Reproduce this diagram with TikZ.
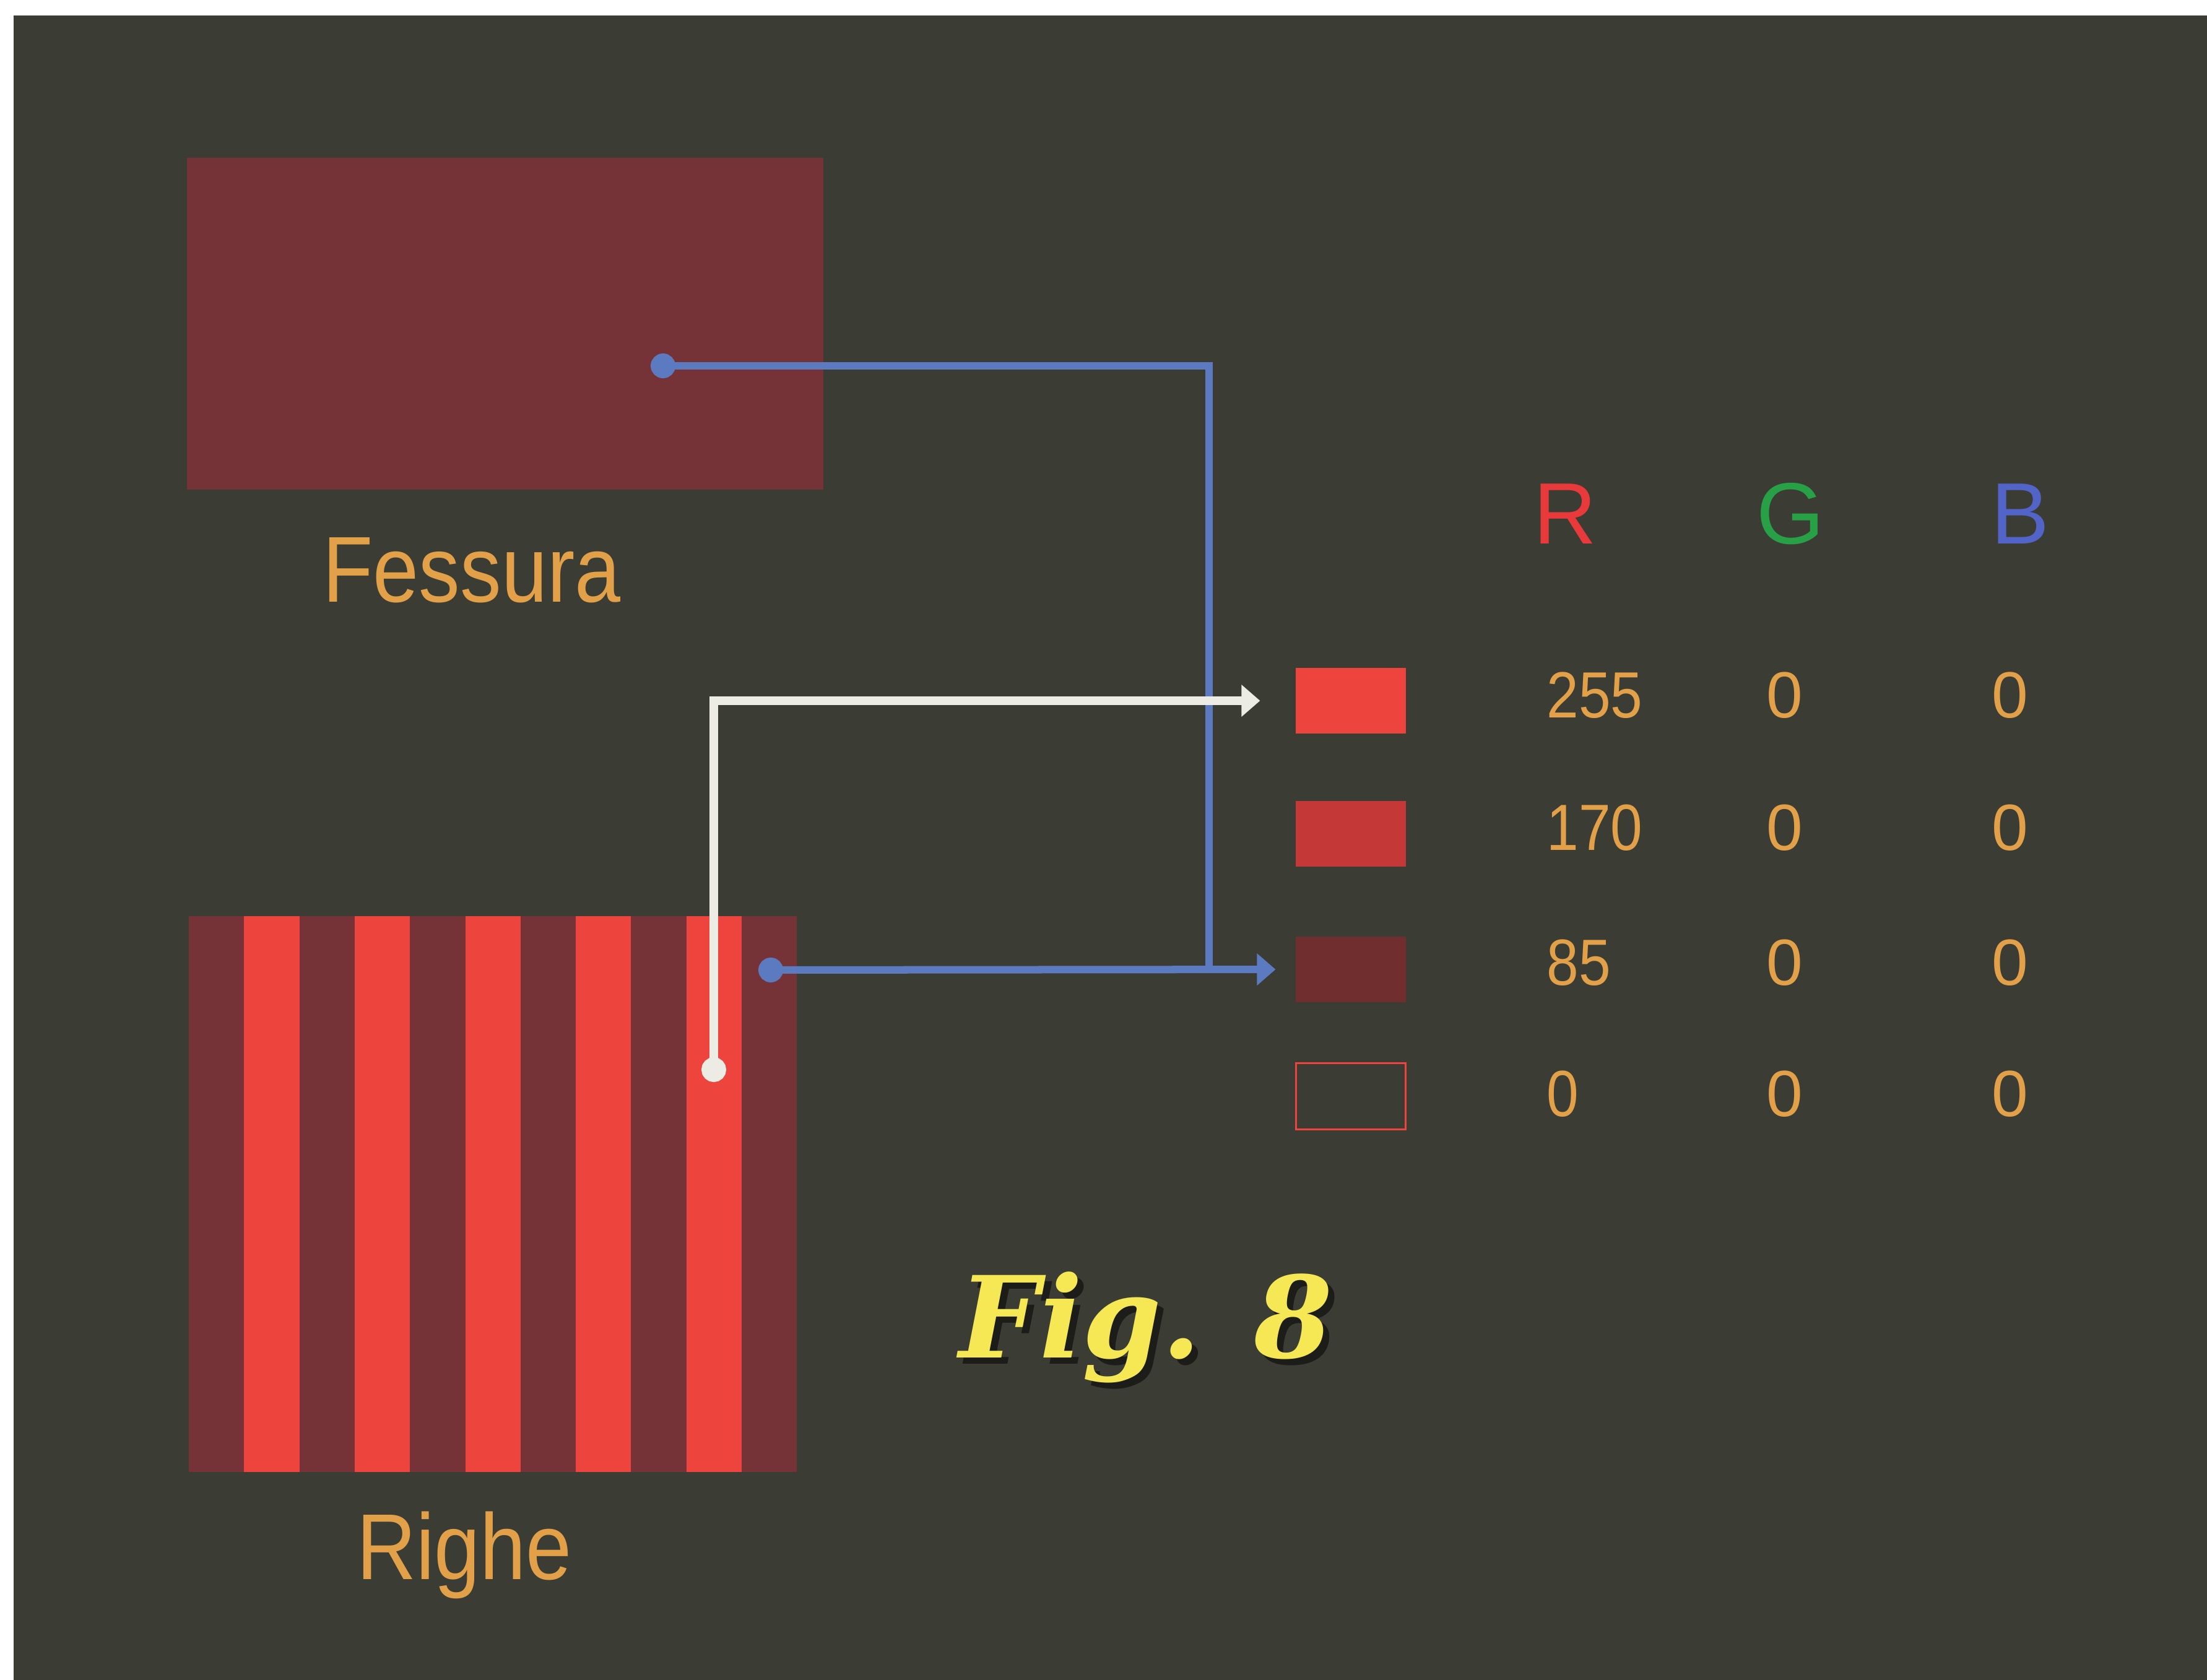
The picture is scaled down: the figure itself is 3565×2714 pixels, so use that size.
\documentclass[tikz,border=0pt]{standalone}
\usepackage{fontspec}
\setmainfont{Liberation Sans}
\newfontfamily\figfont{DejaVu Serif}
\usetikzlibrary{arrows.meta,positioning}
\definecolor{bgolive}{RGB}{59,61,53}
\definecolor{slotred}{RGB}{118,51,55}
\definecolor{stripered}{RGB}{238,68,62}
\definecolor{midred}{RGB}{196,56,56}
\definecolor{darkred}{RGB}{112,46,46}
\definecolor{labelorange}{RGB}{226,160,72}
\definecolor{linkblue}{RGB}{92,122,192}
\definecolor{linkwhite}{RGB}{236,236,228}
\definecolor{chanred}{RGB}{232,58,58}
\definecolor{changreen}{RGB}{40,160,70}
\definecolor{chanblue}{RGB}{82,100,200}
\definecolor{figyellow}{RGB}{246,232,84}
\definecolor{figshadow}{RGB}{28,28,24}

\newcommand{\narrow}[1]{\scalebox{0.88}[1]{#1}}

\begin{document}
\begin{tikzpicture}[x=0.01cm, y=-0.01cm,
  panel/.style={rectangle, inner sep=0pt, outer sep=0pt, fill=slotred},
  swatch/.style={rectangle, inner sep=0pt, outer sep=0pt, minimum width=1.77cm, minimum height=1.06cm},
  caption/.style={text=labelorange, font=\fontsize{43}{50}\selectfont},
  value/.style={text=labelorange, font=\fontsize{30}{36}\selectfont},
  chan/.style={font=\fontsize{40}{48}\selectfont},
  blueline/.style={draw=linkblue, line width=0.12cm},
  whiteline/.style={draw=linkwhite, line width=0.14cm},
  dottip/.style={{Circle[length=0.4cm]}-},
  link/.style={{Circle[length=0.4cm]}-{Triangle[length=0.3cm,width=0.5cm]}},
]
  % page and screen
  \useasboundingbox[fill=white] (0,0) rectangle (3565,2714);
  \fill[bgolive] (22,25) rectangle (3565,2714);

  % the two test images
  \node[panel, minimum width=10.28cm, minimum height=5.36cm] (fessura) at (816,523) {};
  \node[caption] (fessuralbl) at (762,921) {\narrow{Fessura}};

  \node[panel, minimum width=9.82cm, minimum height=8.98cm] (righe) at (796,1929) {};
  \foreach \i in {1,...,5}
    \fill[stripered] ({305+(2*\i-1)*89.3},1480) rectangle ({305+2*\i*89.3},2378);
  \node[caption] (righelbl) at (750,2512) {\narrow{Righe}};

  % colour table
  \node[chan, text=chanred] (hR) at (2528,830) {R};
  \node[chan, text=changreen] (hG) at (2892,830) {G};
  \node[chan, text=chanblue] (hB) at (3263,830) {B};

  \node[swatch, fill=stripered] (s255) at (2182,1132) {};
  \node[swatch, fill=midred] (s170) at (2182,1347) {};
  \node[swatch, fill=darkred] (s85) at (2182,1566) {};
  \node[swatch, draw=stripered, line width=0.03cm] (s0) at (2182,1771) {};

  \foreach \v/\y/\n in {255/1123/a, 170/1337/b, 85/1555/c, 0/1767/d} {
    \node[value, anchor=west] (r\n) at (2486,\y) {\narrow{\v}};
    \node[value] (g\n) at (2883,\y) {0};
    \node[value] (b\n) at (3247,\y) {0};
  }

  % sample points
  \coordinate (dotF) at (1051,591);
  \coordinate (dotR) at (1225,1567);
  \coordinate (dotW) at (1153,1748);
  \coordinate (join) at (1953,1567);

  \draw[blueline, dottip] (dotF) -| (join);
  \draw[blueline, link, shorten >=0.33cm] (dotR) -- (s85.west);
  \draw[whiteline, link, shorten >=0.58cm] (dotW) |- (s255.west);

  % caption
  \node[text=figyellow, font=\figfont\bfseries\itshape\fontsize{52}{58}\selectfont] (fig8)
    at (1851,2149) {\rlap{\hspace{0.1cm}\raisebox{-0.1cm}{\color{figshadow}Fig. 8}}Fig. 8};
\end{tikzpicture}
\end{document}
